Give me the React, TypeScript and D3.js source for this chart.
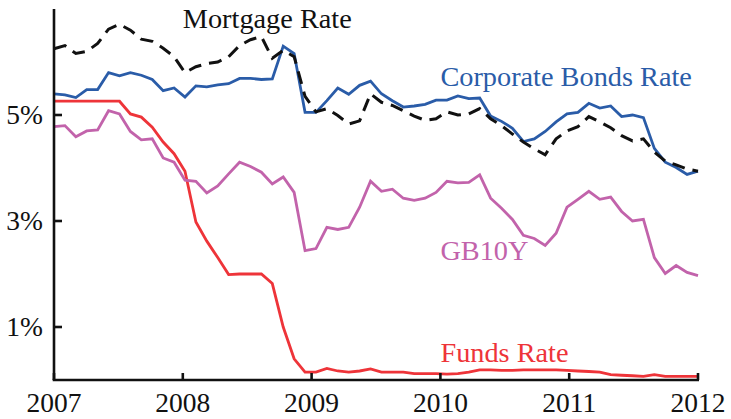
import React from "react";
import * as d3 from "d3";

const years = [2007, 2008, 2009, 2010, 2011, 2012];
const yTicks = [1, 3, 5];
const yTickLabels = ["1%", "3%", "5%"];

const corporate = [
  5.40, 5.38, 5.33, 5.48, 5.48, 5.80, 5.74, 5.80, 5.75, 5.67, 5.46, 5.51,
  5.34, 5.55, 5.53, 5.57, 5.59, 5.69, 5.69, 5.67, 5.68, 6.30, 6.16, 5.05,
  5.05, 5.27, 5.51, 5.39, 5.56, 5.64, 5.40, 5.27, 5.15, 5.17, 5.20, 5.28,
  5.28, 5.36, 5.31, 5.32, 4.98, 4.88, 4.75, 4.50, 4.55, 4.69, 4.87, 5.02,
  5.05, 5.22, 5.13, 5.17, 4.97, 5.00, 4.95, 4.37, 4.11, 4.01, 3.88, 3.94,
];

const mortgage = [
  6.25, 6.31, 6.16, 6.20, 6.35, 6.62, 6.71, 6.60, 6.43, 6.39, 6.26, 6.10,
  5.80, 5.91, 5.97, 6.00, 6.10, 6.31, 6.42, 6.48, 6.07, 6.22, 6.10, 5.35,
  5.06, 5.12, 4.99, 4.83, 4.89, 5.40, 5.24, 5.18, 5.08, 4.98, 4.90, 4.93,
  5.06, 5.00, 5.02, 5.12, 4.93, 4.80, 4.64, 4.49, 4.36, 4.25, 4.55, 4.70,
  4.78, 4.97, 4.87, 4.76, 4.61, 4.51, 4.55, 4.30, 4.13, 4.06, 3.98, 3.94,
];

const gb10y = [
  4.78, 4.80, 4.59, 4.70, 4.72, 5.08, 5.02, 4.69, 4.53, 4.55, 4.19, 4.11,
  3.77, 3.75, 3.53, 3.66, 3.89, 4.11, 4.03, 3.92, 3.70, 3.83, 3.54, 2.44,
  2.48, 2.88, 2.84, 2.88, 3.26, 3.75, 3.56, 3.60, 3.43, 3.39, 3.43, 3.54,
  3.75, 3.72, 3.73, 3.87, 3.43, 3.24, 3.03, 2.73, 2.67, 2.54, 2.77, 3.26,
  3.41, 3.56, 3.41, 3.45, 3.18, 3.00, 3.03, 2.31, 2.01, 2.16, 2.03, 1.97,
];

const funds = [
  5.26, 5.26, 5.26, 5.26, 5.26, 5.26, 5.26, 5.02, 4.96, 4.77, 4.49, 4.27,
  3.94, 2.98, 2.62, 2.31, 1.99, 2.00, 2.00, 2.00, 1.82, 1.00, 0.40, 0.15,
  0.15, 0.22, 0.17, 0.15, 0.17, 0.21, 0.15, 0.15, 0.15, 0.12, 0.12, 0.12,
  0.11, 0.12, 0.15, 0.19, 0.19, 0.18, 0.18, 0.19, 0.19, 0.19, 0.19, 0.18,
  0.17, 0.16, 0.15, 0.10, 0.09, 0.08, 0.07, 0.10, 0.07, 0.07, 0.07, 0.07,
];

const labels = [
  { text: "Mortgage Rate", year: 2008, value: 6.65, color: "#111111" },
  { text: "Corporate Bonds Rate", year: 2010, value: 5.55, color: "#2a5ca8" },
  { text: "GB10Y", year: 2010, value: 2.27, color: "#c263ab" },
  { text: "Funds Rate", year: 2010, value: 0.34, color: "#ee3439" },
];

const W = 731;
const H = 419;
const left = 54;
const right = 698;
const top = 9;
const bottom = 380;
const FONT = "'Liberation Serif', 'DejaVu Serif', serif";

export default function App() {
  const xYear = d3.scaleLinear().domain([2007, 2012]).range([left, right]);
  const xIdx = d3.scaleLinear().domain([0, corporate.length - 1]).range([left, right]);
  const y = d3.scaleLinear().domain([0, 7]).range([bottom, top]);
  const line = d3
    .line<number>()
    .x((_, i) => xIdx(i))
    .y((d) => y(d));

  const series = [
    { data: funds, color: "#ee3439", dash: undefined },
    { data: gb10y, color: "#c263ab", dash: undefined },
    { data: corporate, color: "#2a5ca8", dash: undefined },
    { data: mortgage, color: "#111111", dash: "13 8" },
  ];

  return (
    <svg
      width={W}
      height={H}
      style={{ position: "absolute", left: 0, top: 0, background: "#fff" }}
      fontFamily={FONT}
    >
      {series.map((s, i) => (
        <path
          key={i}
          d={line(s.data) || ""}
          fill="none"
          stroke={s.color}
          strokeWidth={s.dash ? 3 : 2.8}
          strokeDasharray={s.dash}
          strokeLinejoin="miter"
        />
      ))}
      <line x1={left} x2={left} y1={top} y2={bottom} stroke="#111" strokeWidth={2.6} />
      <line x1={left - 1.3} x2={right + 1} y1={bottom} y2={bottom} stroke="#111" strokeWidth={2.6} />
      {yTicks.map((t, i) => (
        <g key={t}>
          <line x1={left} x2={left + 8} y1={y(t)} y2={y(t)} stroke="#111" strokeWidth={2.6} />
          <text
            x={left - 11}
            y={y(t)}
            dy="0.33em"
            textAnchor="end"
            fontSize={27.5}
            fill="#111"
          >
            {yTickLabels[i]}
          </text>
        </g>
      ))}
      {years.map((yr) => (
        <g key={yr}>
          <line x1={xYear(yr)} x2={xYear(yr)} y1={bottom} y2={bottom - 7} stroke="#111" strokeWidth={2.6} />
          <text x={xYear(yr)} y={412} textAnchor="middle" fontSize={27.5} fill="#111">
            {yr}
          </text>
        </g>
      ))}
      {labels.map((l) => (
        <text key={l.text} x={xYear(l.year)} y={y(l.value)} fontSize={28.3} fill={l.color}>
          {l.text}
        </text>
      ))}
    </svg>
  );
}
